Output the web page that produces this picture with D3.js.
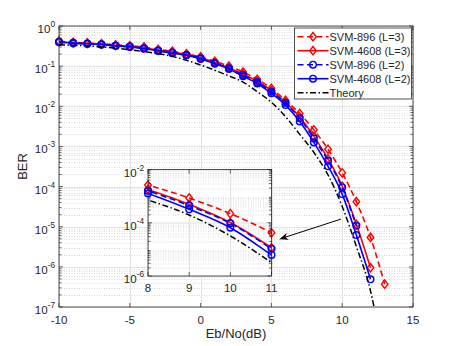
<!DOCTYPE html>
<html>
<head>
<meta charset="utf-8">
<script src="https://cdn.jsdelivr.net/npm/d3@7"></script>
<style>
	body { margin: 0; background: #fff; }
	text { font-family: "Liberation Sans", Arial, sans-serif; fill: #262626; }
</style>
</head>
<body>
<svg id="svg" width="457" height="346"></svg>
<script>
// ---- data ----
const snr = [-10, -9, -8, -7, -6, -5, -4, -3, -2, -1, 0, 1, 2, 3, 4, 5, 6, 7, 8, 9, 10, 11, 12, 13];
const ber896L3 = [0.42, 0.39, 0.38, 0.36, 0.34, 0.32, 0.30, 0.26, 0.235, 0.204, 0.17, 0.132, 0.10, 0.071, 0.047, 0.028, 0.014, 6.6e-3, 2.6e-3, 8.5e-4, 2.2e-4, 4.2e-5, 5.4e-6, 3.7e-7];
const ber4608L3 = [0.41, 0.38, 0.37, 0.355, 0.33, 0.315, 0.29, 0.25, 0.224, 0.195, 0.162, 0.123, 0.091, 0.063, 0.042, 0.0245, 0.0126, 5.4e-3, 1.78e-3, 4.9e-4, 1.02e-4, 1.15e-5, 9.5e-7];
const ber896L2 = [0.40, 0.38, 0.36, 0.35, 0.32, 0.31, 0.28, 0.245, 0.22, 0.19, 0.158, 0.12, 0.089, 0.06, 0.04, 0.023, 0.012, 5.0e-3, 1.58e-3, 4.4e-4, 9.5e-5, 1.05e-5];
const ber4608L2 = [0.40, 0.37, 0.36, 0.34, 0.32, 0.30, 0.27, 0.24, 0.21, 0.186, 0.151, 0.115, 0.085, 0.056, 0.037, 0.021, 0.0107, 4.2e-3, 1.26e-3, 3.2e-4, 6.5e-5, 6.2e-6, 4.9e-7];
const theorySnr = [-10, -9, -8, -7, -6, -5, -4, -3, -2, -1, 0, 1, 2, 3, 4, 5, 6, 7, 8, 9, 10, 11, 12, 12.25];
const theoryBer = [0.34, 0.33, 0.32, 0.30, 0.28, 0.255, 0.23, 0.205, 0.175, 0.14, 0.107, 0.079, 0.057, 0.040, 0.023, 0.0126, 5.5e-3, 2.0e-3, 7.1e-4, 1.95e-4, 3.2e-5, 3.2e-6, 2.5e-7, 1e-7];
const seriesNames = ['SVM-896 (L=3)', 'SVM-4608 (L=3)', 'SVM-896 (L=2)', 'SVM-4608 (L=2)', 'Theory'];

const xTicks = [-10, -5, 0, 5, 10, 15];
const yExps = [0, -1, -2, -3, -4, -5, -6, -7];
const insetXTicks = [8, 9, 10, 11];
const insetYExps = [-2, -4, -6];

// ---- series styling ----
const series = [
	{ name: seriesNames[0], xs: snr, ys: ber896L3, color: '#ff0000', dash: '6,3.5', marker: 'diamond' },
	{ name: seriesNames[1], xs: snr, ys: ber4608L3, color: '#ff0000', dash: null, marker: 'diamond' },
	{ name: seriesNames[2], xs: snr, ys: ber896L2, color: '#0000ff', dash: '6,3.5', marker: 'circle' },
	{ name: seriesNames[3], xs: snr, ys: ber4608L2, color: '#0000ff', dash: null, marker: 'circle' },
	{ name: seriesNames[4], xs: theorySnr, ys: theoryBer, color: '#000000', dash: '6,2.5,1.5,2.5', marker: null }
];

const svg = d3.select('#svg');
const margin = { left: 59, top: 26, right: 44, bottom: 39 };
const width = 457 - margin.left - margin.right;   // 354
const height = 346 - margin.top - margin.bottom;  // 281

const x = d3.scaleLinear().domain([-10, 15]).range([0, width]);
const y = d3.scaleLog().domain([1e-7, 1]).range([height, 0]);

function markerPath(type) {
	if (type === 'diamond') return 'M0,-4.2L3.3,0L0,4.2L-3.3,0Z';
	return d3.symbol().type(d3.symbolCircle).size(Math.PI * 3.3 * 3.3)();
}

function minorValues(lo, hi) {
	const out = [];
	for (let e = lo; e < hi; e++) for (let k = 2; k <= 9; k++) out.push(k * Math.pow(10, e));
	return out;
}

function powLabel(sel, exp, xPos, yPos, size) {
	const t = sel.append('text').attr('x', xPos).attr('y', yPos + 7)
		.attr('text-anchor', 'end').style('font-size', size + 'px');
	t.append('tspan').text('10');
	t.append('tspan').attr('dy', -6).style('font-size', (size * 0.72) + 'px').text(exp);
}

// draws grid, data, ticks and box for one axes
function drawAxes(g, sx, sy, xt, yexps, w, h, clipId, fontSize) {
	g.append('rect').attr('width', w).attr('height', h).attr('fill', '#fff');

	const [ylo, yhi] = sy.domain().map(v => Math.round(Math.log10(v)));
	// minor grid
	g.append('g').selectAll('line').data(minorValues(ylo, yhi)).enter().append('line')
		.attr('x1', 0).attr('x2', w).attr('y1', d => Math.round(sy(d)) + 0.5).attr('y2', d => Math.round(sy(d)) + 0.5)
		.attr('stroke', '#c4c4c4').attr('stroke-width', 0.6).attr('stroke-dasharray', '1,1.5');
	// major grid
	g.append('g').selectAll('line').data(yexps.map(e => Math.pow(10, e))).enter().append('line')
		.attr('x1', 0).attr('x2', w).attr('y1', d => Math.round(sy(d)) + 0.5).attr('y2', d => Math.round(sy(d)) + 0.5)
		.attr('stroke', '#e1e1e1').attr('stroke-width', 1);
	g.append('g').selectAll('line').data(xt).enter().append('line')
		.attr('y1', 0).attr('y2', h).attr('x1', d => Math.round(sx(d)) + 0.5).attr('x2', d => Math.round(sx(d)) + 0.5)
		.attr('stroke', '#e1e1e1').attr('stroke-width', 1);

	g.append('clipPath').attr('id', clipId).append('rect').attr('width', w).attr('height', h);
	const [xlo, xhi] = sx.domain();

	const line = d3.line().x((d, i) => sx(d[0])).y(d => sy(d[1])).curve(d3.curveMonotoneX);
	series.forEach(s => {
		const pts = s.xs.slice(0, s.ys.length).map((v, i) => [v, s.ys[i]]);
		g.append('path').datum(pts).attr('clip-path', `url(#${clipId})`)
			.attr('d', line).attr('fill', 'none').attr('stroke', s.color)
			.attr('stroke-width', s.marker ? 1.6 : 1.5)
			.attr('stroke-dasharray', s.dash);
		if (s.marker) {
			g.append('g').selectAll('path')
				.data(pts.filter(p => p[0] >= xlo - 1e-9 && p[0] <= xhi + 1e-9 && p[1] >= sy.domain()[0] && p[1] <= sy.domain()[1]))
				.enter().append('path')
				.attr('transform', d => `translate(${sx(d[0])},${sy(d[1])})`)
				.attr('d', markerPath(s.marker))
				.attr('fill', 'none').attr('stroke', s.color).attr('stroke-width', 1.4);
		}
	});

	// ticks (inside, both sides)
	const tk = g.append('g').attr('stroke', '#262626').attr('stroke-width', 0.7);
	minorValues(ylo, yhi).forEach(v => {
		const yy = sy(v);
		tk.append('line').attr('x1', 0).attr('x2', 2.5).attr('y1', yy).attr('y2', yy);
		tk.append('line').attr('x1', w).attr('x2', w - 2.5).attr('y1', yy).attr('y2', yy);
	});
	yexps.forEach(e => {
		const yy = sy(Math.pow(10, e));
		tk.append('line').attr('x1', 0).attr('x2', 4).attr('y1', yy).attr('y2', yy);
		tk.append('line').attr('x1', w).attr('x2', w - 4).attr('y1', yy).attr('y2', yy);
		powLabel(g, e, -4, yy, fontSize);
	});
	xt.forEach(v => {
		const xx = sx(v);
		tk.append('line').attr('x1', xx).attr('x2', xx).attr('y1', h).attr('y2', h - 4);
		tk.append('line').attr('x1', xx).attr('x2', xx).attr('y1', 0).attr('y2', 4);
	});
	g.append('rect').attr('width', w).attr('height', h).attr('fill', 'none')
		.attr('stroke', '#262626').attr('stroke-width', 0.8);
}

// ---- main axes ----
const main = svg.append('g').attr('transform', `translate(${margin.left},${margin.top})`);
drawAxes(main, x, y, xTicks, yExps, width, height, 'clipMain', 11.5);
main.append('g').selectAll('text').data(xTicks).enter().append('text')
	.attr('x', d => x(d)).attr('y', height + 17).attr('text-anchor', 'middle')
	.style('font-size', '11.5px').text(d => d);

main.append('text').attr('x', width / 2).attr('y', height + 31).attr('text-anchor', 'middle')
	.style('font-size', '13px').text('Eb/No(dB)');
main.append('text').attr('transform', `translate(${27 - margin.left},${height / 2}) rotate(-90)`)
	.attr('text-anchor', 'middle').style('font-size', '13px').text('BER');

// ---- inset axes ----
const insetBox = { left: 148, top: 169.5, w: 123.5, h: 106.5 };
const ix = d3.scaleLinear().domain([8, 11]).range([0, insetBox.w]);
const iy = d3.scaleLog().domain([1e-6, 1e-2]).range([insetBox.h, 0]);
const inset = svg.append('g').attr('transform', `translate(${insetBox.left},${insetBox.top})`);
drawAxes(inset, ix, iy, insetXTicks, insetYExps, insetBox.w, insetBox.h, 'clipInset', 11.5);
inset.append('g').selectAll('text').data(insetXTicks).enter().append('text')
	.attr('x', d => ix(d)).attr('y', insetBox.h + 16).attr('text-anchor', 'middle')
	.style('font-size', '11.5px').text(d => d);

// ---- arrow annotation (in data coords of main axes) ----
const arrowFrom = [9.92, 1.55e-5], arrowTo = [5.55, 4.9e-6];
const ax1 = x(arrowFrom[0]), ay1 = y(arrowFrom[1]), ax2 = x(arrowTo[0]), ay2 = y(arrowTo[1]);
const ang = Math.atan2(ay2 - ay1, ax2 - ax1);
main.append('line').attr('x1', ax1).attr('y1', ay1)
	.attr('x2', ax2 - 6 * Math.cos(ang)).attr('y2', ay2 - 6 * Math.sin(ang))
	.attr('stroke', '#000').attr('stroke-width', 1);
main.append('path')
	.attr('transform', `translate(${ax2},${ay2}) rotate(${ang * 180 / Math.PI})`)
	.attr('d', 'M0,0L-9,-3.5L-6.5,0L-9,3.5Z').attr('fill', '#000');

// ---- legend ----
const lg = svg.append('g').attr('transform', 'translate(294.5,28)');
lg.append('rect').attr('width', 117).attr('height', 71).attr('fill', '#fff')
	.attr('stroke', '#262626').attr('stroke-width', 0.8);
series.forEach((s, i) => {
	const yy = 8.7 + i * 14;
	lg.append('line').attr('x1', 3).attr('x2', 34).attr('y1', yy).attr('y2', yy)
		.attr('stroke', s.color).attr('stroke-width', s.marker ? 1.6 : 1.5)
		.attr('stroke-dasharray', s.dash);
	if (s.marker) {
		lg.append('path').attr('transform', `translate(18.5,${yy})`).attr('d', markerPath(s.marker))
			.attr('fill', 'none').attr('stroke', s.color).attr('stroke-width', 1.4);
	}
	lg.append('text').attr('x', 35).attr('y', yy + 4).style('font-size', '11px').text(s.name);
});
</script>
</body>
</html>
